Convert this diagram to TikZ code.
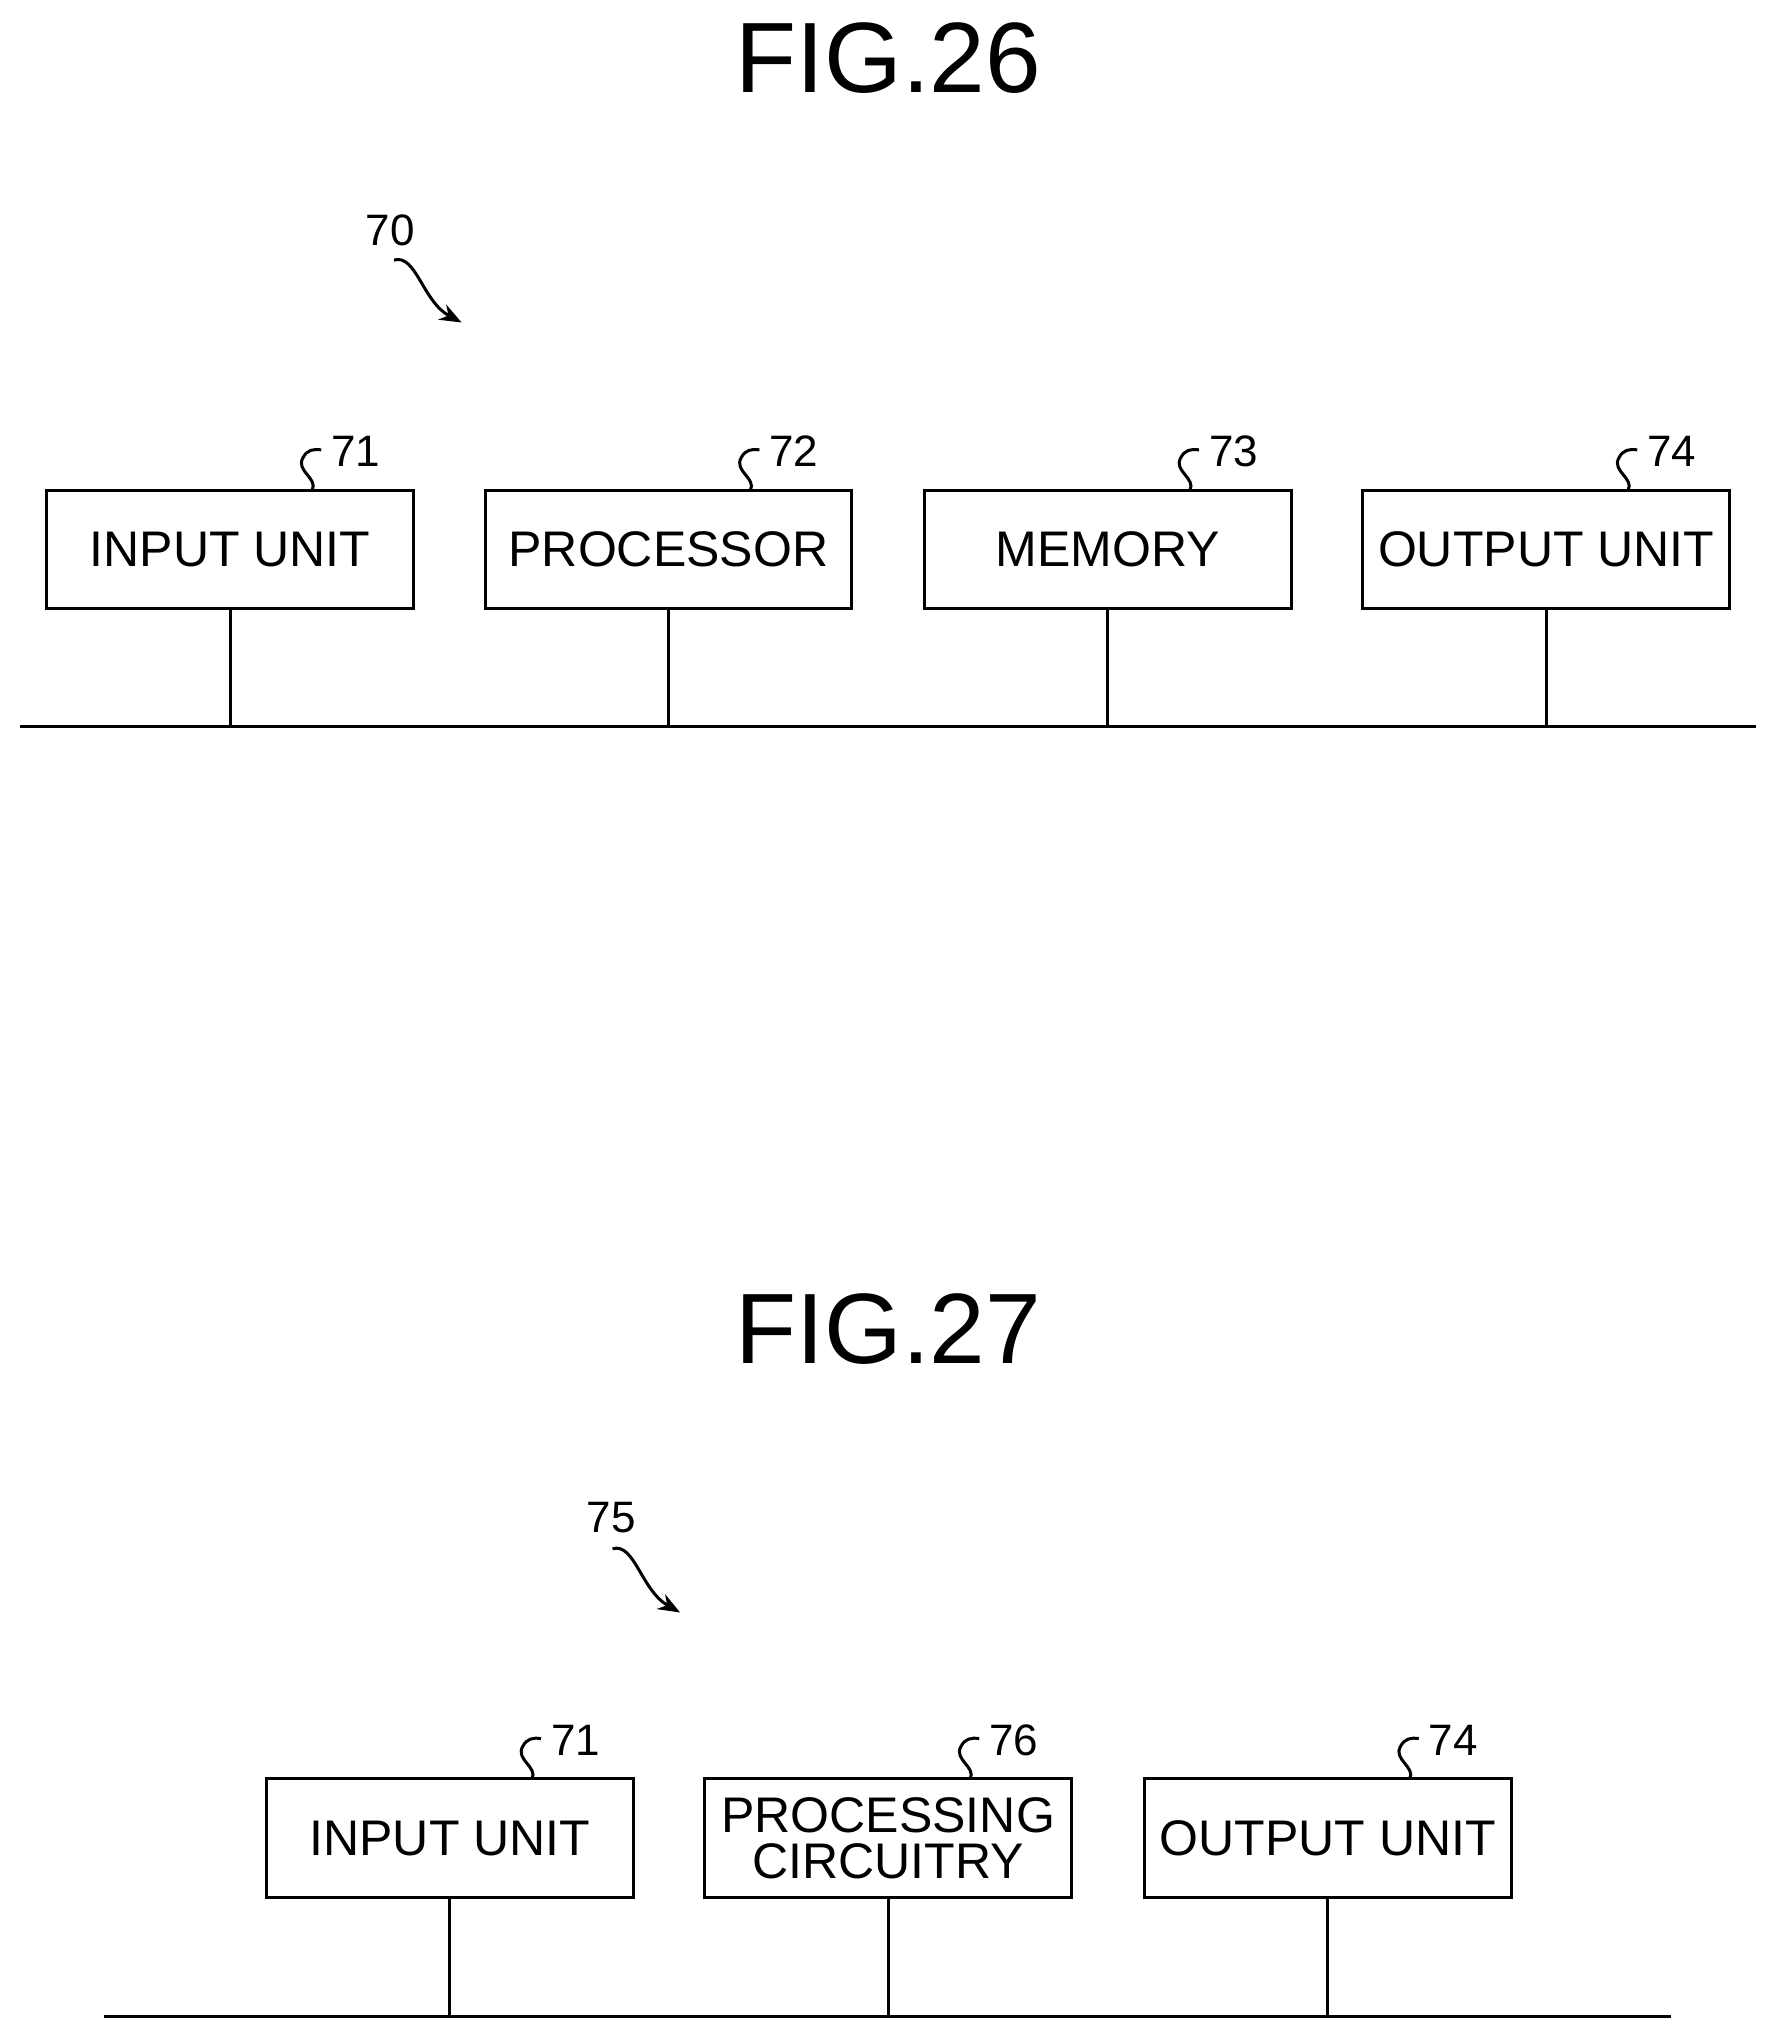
\documentclass[tikz,border=0pt]{standalone}
\usepackage{fontspec}
\setmainfont{Liberation Sans}
\usetikzlibrary{arrows.meta}
\begin{document}
\begin{tikzpicture}[x=1.3pt,y=-1.3pt,
  box/.style={draw,line width=3pt,minimum width=282*1.3pt,minimum height=91*1.3pt,inner sep=0pt,font=\fontsize{50}{52}\selectfont,align=center},
  ttl/.style={font=\fontsize{100}{102}\selectfont},
  lbl/.style={font=\fontsize{44}{46}\selectfont},
  ln/.style={line width=3pt}]
\useasboundingbox (0,0) rectangle (1366,1568);
\fill[white] (0,0) rectangle (1366,1568);
\node[ttl] (t26) at (683,45) {FIG.26};
\node[lbl] (l70) at (300,177) {70};
\coordinate (a70) at (355,248);
\draw[ln,-{Stealth[length=22pt,width=17pt]}] (303,200) .. controls (320,195) and (325,232) .. (a70);
\foreach \n/\x/\t/\r in {i/177/INPUT UNIT/71,p/514/PROCESSOR/72,m/852/MEMORY/73,o/1189/OUTPUT UNIT/74}{
  \node[box] (\n) at (\x,422.5) {\t};
  \coordinate (b\n) at (\x,559);
  \draw[ln] (\n.south) -- (b\n);
  \draw[ln] (\x+63,377) .. controls (\x+68,368) and (\x+50,362) .. (\x+56,352) .. controls (\x+59,346) and (\x+64,345) .. (\x+70,346);
  \node[lbl,anchor=west] (r\n) at (\x+75,347) {\r};
}
\coordinate (bus1a) at (15,559); \coordinate (bus1b) at (1350,559);
\draw[ln] (bus1a) -- (bus1b);
\node[ttl] (t27) at (683,1022) {FIG.27};
\node[lbl] (l75) at (470,1167) {75};
\coordinate (a75) at (523,1240);
\draw[ln,-{Stealth[length=22pt,width=17pt]}] (471,1191) .. controls (488,1186) and (493,1223) .. (a75);
\foreach \n/\x/\t/\r in {j/346/INPUT UNIT/71,c/683/PROCESSING\\[-6pt]CIRCUITRY/76,q/1021/OUTPUT UNIT/74}{
  \node[box] (\n) at (\x,1413.5) {\t};
  \coordinate (b\n) at (\x,1551);
  \draw[ln] (\n.south) -- (b\n);
  \draw[ln] (\x+63,1368) .. controls (\x+68,1359) and (\x+50,1353) .. (\x+56,1343) .. controls (\x+59,1337) and (\x+64,1336) .. (\x+70,1337);
  \node[lbl,anchor=west] (r\n) at (\x+75,1338) {\r};
}
\coordinate (bus2a) at (80,1551); \coordinate (bus2b) at (1285,1551);
\draw[ln] (bus2a) -- (bus2b);
\end{tikzpicture}
\end{document}
